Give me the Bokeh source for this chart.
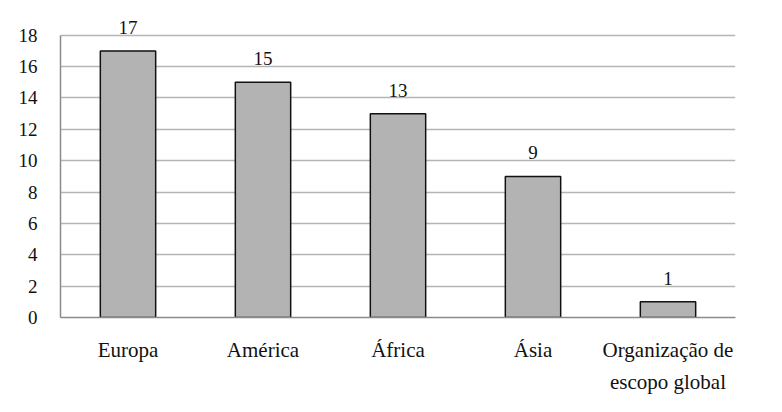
from bokeh.plotting import figure
from bokeh.models import ColumnDataSource, FixedTicker, Range1d, LabelSet
from bokeh.embed import file_html
from bokeh.resources import INLINE

categories = ["Europa", "América", "África", "Ásia", "Organização de\nescopo global"]
counts = [17, 15, 13, 9, 1]
y_ticks = [0, 2, 4, 6, 8, 10, 12, 14, 16, 18]

FONT = "Liberation Serif"
FSIZE = "21px"
NSIZE = "19px"

src = ColumnDataSource(dict(cat=categories, val=counts, lbl=[str(v) for v in counts]))

p = figure(x_range=categories, width=766, height=396, output_backend="svg",
           toolbar_location=None, min_border_left=60, min_border_right=31,
           min_border_top=11, min_border_bottom=76)
p.y_range = Range1d(0, 19.516)
p.outline_line_color = None
p.background_fill_color = "white"

p.vbar(x="cat", top="val", width=0.41, source=src, fill_color="#b3b3b3",
       line_color="#111111", line_width=1.5)

labels = LabelSet(x="cat", y="val", text="lbl", source=src, text_align="center",
                  text_baseline="alphabetic", y_offset=17, text_font=FONT,
                  text_font_size=NSIZE, text_color="#111111")
p.add_layout(labels)

p.yaxis.ticker = FixedTicker(ticks=y_ticks)
p.yaxis.bounds = (0, 18)
p.yaxis.major_tick_line_color = None
p.yaxis.minor_tick_line_color = None
p.yaxis.major_tick_out = 0
p.yaxis.major_tick_in = 0
p.yaxis.axis_line_color = "#8a8a8a"
p.yaxis.axis_line_width = 1.5
p.yaxis.major_label_text_font = FONT
p.yaxis.major_label_text_font_size = NSIZE
p.yaxis.major_label_text_color = "#111111"
p.yaxis.major_label_standoff = 23

p.xaxis.major_tick_line_color = None
p.xaxis.minor_tick_line_color = None
p.xaxis.major_tick_out = 0
p.xaxis.major_tick_in = 0
p.xaxis.axis_line_color = "#8a8a8a"
p.xaxis.axis_line_width = 1.5
p.xaxis.major_label_text_font = FONT
p.xaxis.major_label_text_font_size = FSIZE
p.xaxis.major_label_text_color = "#111111"
p.xaxis.major_label_text_line_height = 1.35
p.xaxis.major_label_standoff = 20

p.xgrid.grid_line_color = None
p.ygrid.grid_line_color = "#b5b5b5"
p.ygrid.grid_line_width = 1.5

open("out.html", "w").write(file_html(p, INLINE))
